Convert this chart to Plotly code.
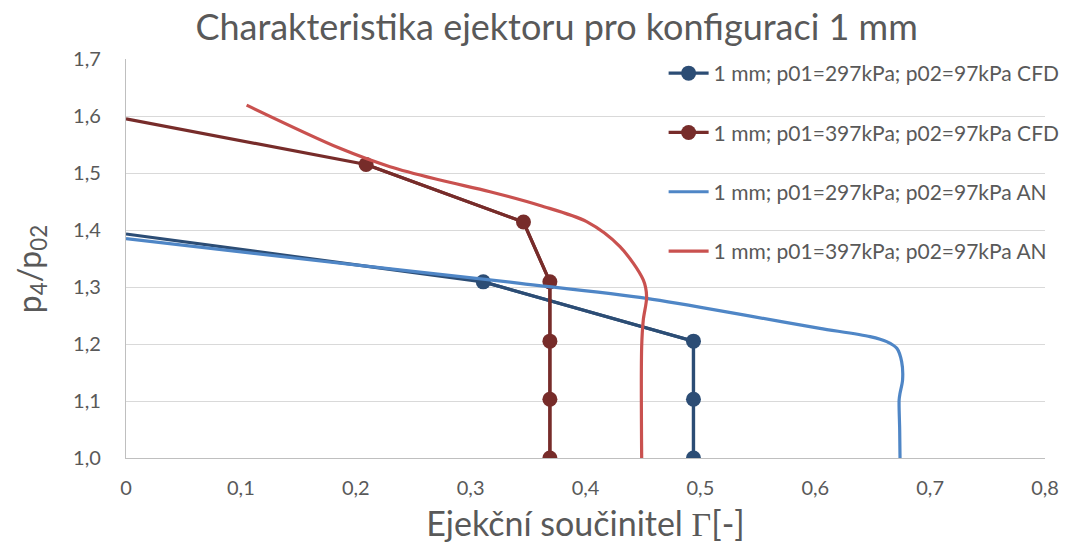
import plotly.graph_objects as go

# CFD 297 kPa
cfd297_x = [0.0, 0.311, 0.494, 0.494, 0.494]
cfd297_y = [1.393, 1.309, 1.205, 1.103, 1.0]
# CFD 397 kPa
cfd397_x = [0.0, 0.209, 0.346, 0.369, 0.369, 0.369, 0.369]
cfd397_y = [1.595, 1.515, 1.414, 1.309, 1.205, 1.103, 1.0]
# AN 297 kPa
an297_x = [0.0, 0.15, 0.343, 0.4532, 0.546, 0.604, 0.6477, 0.6622, 0.671, 0.6752, 0.676, 0.6738, 0.673, 0.6735, 0.6738]
an297_y = [1.385, 1.350, 1.3065, 1.2801, 1.248, 1.2275, 1.2129, 1.2041, 1.1924, 1.169, 1.1368, 1.1135, 1.1018, 1.05, 1.0]
# AN 397 kPa
an397_x = [0.105, 0.1862, 0.2298, 0.2733, 0.3169, 0.3604, 0.401, 0.430, 0.4503, 0.4532, 0.4503, 0.4489, 0.4489]
an397_y = [1.619, 1.5433, 1.5111, 1.4877, 1.4672, 1.4430, 1.4146, 1.3707, 1.3123, 1.283, 1.2421, 1.1953, 1.0]

names = [
    "1 mm; p01=297kPa; p02=97kPa CFD",
    "1 mm; p01=397kPa; p02=97kPa CFD",
    "1 mm; p01=297kPa; p02=97kPa AN",
    "1 mm; p01=397kPa; p02=97kPa AN",
]

x_ticks = [0, 0.1, 0.2, 0.3, 0.4, 0.5, 0.6, 0.7, 0.8]
y_ticks = [1.0, 1.1, 1.2, 1.3, 1.4, 1.5, 1.6, 1.7]

FONT = "Lato, 'Open Sans', sans-serif"
GREY = "#595959"
C_CFD297 = "#2C4D75"
C_CFD397 = "#772C2A"
C_AN297 = "#4F86C6"
C_AN397 = "#C9514F"
LW = 3.2
MS = 15

fig = go.Figure()
# CFD 297: full line (first point at axis has no visible marker), then markers
fig.add_trace(go.Scatter(x=cfd297_x, y=cfd297_y, mode="lines", showlegend=False,
                         line=dict(color=C_CFD297, width=LW), hoverinfo="skip"))
fig.add_trace(go.Scatter(x=cfd297_x[1:], y=cfd297_y[1:], name=names[0], mode="lines+markers",
                         line=dict(color=C_CFD297, width=LW),
                         marker=dict(size=MS, color=C_CFD297, opacity=1), legendgroup="a"))
fig.add_trace(go.Scatter(x=cfd397_x, y=cfd397_y, mode="lines", showlegend=False,
                         line=dict(color=C_CFD397, width=LW), hoverinfo="skip"))
fig.add_trace(go.Scatter(x=cfd397_x[1:], y=cfd397_y[1:], name=names[1], mode="lines+markers",
                         line=dict(color=C_CFD397, width=LW),
                         marker=dict(size=MS, color=C_CFD397, opacity=1), legendgroup="b"))
fig.add_trace(go.Scatter(x=an297_x, y=an297_y, name=names[2], mode="lines",
                         line=dict(color=C_AN297, width=LW, shape="spline", smoothing=0.8),
                         legendgroup="c"))
fig.add_trace(go.Scatter(x=an397_x, y=an397_y, name=names[3], mode="lines",
                         line=dict(color=C_AN397, width=LW, shape="spline", smoothing=0.9),
                         legendgroup="d"))

fig.update_layout(
    width=1085, height=548,
    margin=dict(l=126, r=40, t=59, b=90),
    paper_bgcolor="white", plot_bgcolor="white",
    separators=", ",
    font=dict(family=FONT, color=GREY),
    title=dict(text="Charakteristika ejektoru pro konfiguraci 1 mm",
               x=0.513, xanchor="center", y=0.95, yanchor="middle",
               font=dict(size=36, color=GREY, family=FONT)),
    legend=dict(x=0.585, xanchor="left", y=1.015, yanchor="top",
                bgcolor="rgba(0,0,0,0)", font=dict(size=21, color=GREY, family=FONT),
                tracegroupgap=29, itemwidth=40),
    showlegend=True,
    annotations=[dict(
        text="p<sub>4</sub>/p<sub>02</sub>", textangle=-90,
        xref="paper", yref="paper", x=-0.104, y=0.474,
        xanchor="center", yanchor="middle", showarrow=False,
        font=dict(size=32, color=GREY, family=FONT))],
)
fig.update_xaxes(
    range=[0, 0.8], tickvals=x_ticks, tickmode="array",
    ticktext=["0"] + [f"{v:.1f}".replace(".", ",") for v in x_ticks[1:]],
    showgrid=False, zeroline=False,
    showline=True, linecolor="#BFBFBF", linewidth=1.3,
    tickfont=dict(size=20, color=GREY, family=FONT), ticks="",
    ticklabelstandoff=12,
    title=dict(text="Ejekční součinitel <span style=\"font-family:'Liberation Serif'\">Γ</span>[-]",
               font=dict(size=34, color=GREY, family=FONT), standoff=14),
)
fig.update_yaxes(
    range=[1.0, 1.7], tickvals=y_ticks, tickformat=".1f",
    showgrid=True, gridcolor="#D9D9D9", gridwidth=1.3, zeroline=False,
    showline=True, linecolor="#BFBFBF", linewidth=1.3,
    tickfont=dict(size=20, color=GREY, family=FONT), ticks="",
    ticklabelstandoff=20,
)

fig.write_html("out.html")
